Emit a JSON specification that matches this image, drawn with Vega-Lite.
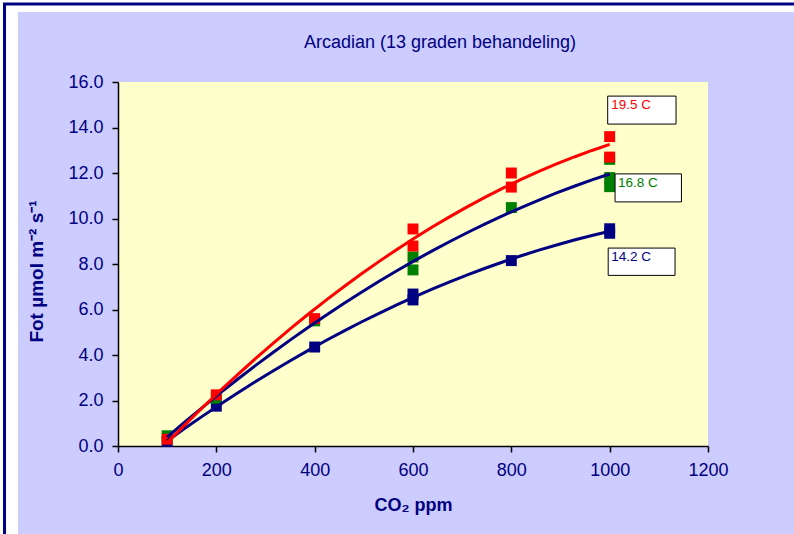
{
  "$schema": "https://vega.github.io/schema/vega-lite/v6.json",
  "width": 590,
  "height": 364,
  "autosize": "none",
  "padding": {"left": 118, "top": 82, "right": 86, "bottom": 88},
  "background": "#CCCCFF",
  "title": {
    "text": "Arcadian (13 graden behandeling)",
    "font": "Liberation Sans",
    "fontSize": 18,
    "fontWeight": "normal",
    "color": "#000080",
    "anchor": "middle",
    "frame": "group",
    "baseline": "alphabetic",
    "dx": 27,
    "offset": 0,
    "dy": 66
  },
  "config": {
    "view": {"stroke": null, "fill": "#FFFFCC"},
    "font": "Liberation Sans",
    "axis": {
      "grid": false,
      "domainColor": "black",
      "domainWidth": 1.5,
      "tickColor": "black",
      "tickWidth": 1.5,
      "tickSize": 6,
      "labelColor": "#000080",
      "labelFont": "Liberation Sans",
      "labelFontSize": 18,
      "labelPadding": 9,
      "labelFlush": false,
      "titleColor": "#000080",
      "titleFont": "Liberation Sans",
      "titleFontSize": 18,
      "titleFontWeight": "bold"
    }
  },
  "datasets": {
    "points": [
      {"series": "14.2 C", "co2": 100, "fot": 0.2},
      {"series": "14.2 C", "co2": 200, "fot": 1.75},
      {"series": "14.2 C", "co2": 400, "fot": 4.35},
      {"series": "14.2 C", "co2": 600, "fot": 6.42},
      {"series": "14.2 C", "co2": 600, "fot": 6.68},
      {"series": "14.2 C", "co2": 800, "fot": 8.15},
      {"series": "14.2 C", "co2": 1000, "fot": 9.35},
      {"series": "14.2 C", "co2": 1000, "fot": 9.55},
      {"series": "16.8 C", "co2": 100, "fot": 0.45},
      {"series": "16.8 C", "co2": 200, "fot": 2.1},
      {"series": "16.8 C", "co2": 400, "fot": 5.5},
      {"series": "16.8 C", "co2": 600, "fot": 7.74},
      {"series": "16.8 C", "co2": 600, "fot": 8.31},
      {"series": "16.8 C", "co2": 800, "fot": 10.48},
      {"series": "16.8 C", "co2": 1000, "fot": 11.4},
      {"series": "16.8 C", "co2": 1000, "fot": 11.8},
      {"series": "16.8 C", "co2": 1000, "fot": 12.6},
      {"series": "19.5 C", "co2": 100, "fot": 0.3},
      {"series": "19.5 C", "co2": 200, "fot": 2.25},
      {"series": "19.5 C", "co2": 400, "fot": 5.6},
      {"series": "19.5 C", "co2": 600, "fot": 8.79},
      {"series": "19.5 C", "co2": 600, "fot": 9.54},
      {"series": "19.5 C", "co2": 800, "fot": 11.38},
      {"series": "19.5 C", "co2": 800, "fot": 12.0},
      {"series": "19.5 C", "co2": 1000, "fot": 12.7},
      {"series": "19.5 C", "co2": 1000, "fot": 13.6}
    ],
    "labels": [
      {"label": "19.5 C", "x1": 996, "x2": 1135, "y1": 15.38, "y2": 14.15, "tx": 1003, "ty": 14.99},
      {"label": "16.8 C", "x1": 1011, "x2": 1146, "y1": 11.96, "y2": 10.73, "tx": 1017, "ty": 11.56},
      {"label": "14.2 C", "x1": 997, "x2": 1133, "y1": 8.7, "y2": 7.5, "tx": 1003, "ty": 8.31}
    ]
  },
  "layer": [
    {
      "data": {"name": "points"},
      "mark": {"type": "point", "shape": "square", "filled": true, "size": 120, "opacity": 1},
      "encoding": {
        "x": {
          "field": "co2", "type": "quantitative",
          "scale": {"domain": [0, 1200], "nice": false},
          "axis": {"values": [0, 200, 400, 600, 800, 1000, 1200], "format": "d", "title": "CO₂ ppm", "titlePadding": 17}
        },
        "y": {
          "field": "fot", "type": "quantitative",
          "scale": {"domain": [0, 16], "nice": false},
          "axis": {"values": [0, 2, 4, 6, 8, 10, 12, 14, 16], "format": ".1f", "title": "Fot µmol m⁻² s⁻¹", "titleFontSize": 19, "titlePadding": 21, "titleY": 189}
        },
        "fill": {
          "field": "series", "type": "nominal",
          "scale": {"domain": ["19.5 C", "16.8 C", "14.2 C"], "range": ["#FF0000", "#008000", "#000080"]},
          "legend": null
        }
      }
    },
    {
      "data": {"name": "points"},
      "transform": [
        {"regression": "fot", "on": "co2", "groupby": ["series"], "method": "poly", "order": 2, "extent": [100, 1000]}
      ],
      "mark": {"type": "line", "strokeWidth": 3},
      "encoding": {
        "x": {"field": "co2", "type": "quantitative"},
        "y": {"field": "fot", "type": "quantitative"},
        "stroke": {
          "field": "series", "type": "nominal",
          "scale": {"domain": ["19.5 C", "16.8 C", "14.2 C"], "range": ["#FF0000", "#000080", "#000080"]},
          "legend": null
        },
        "detail": {"field": "series"}
      }
    },
    {
      "data": {"name": "labels"},
      "mark": {"type": "rect", "fill": "white", "stroke": "black", "strokeWidth": 1},
      "encoding": {
        "x": {"field": "x1", "type": "quantitative"},
        "x2": {"field": "x2"},
        "y": {"field": "y1", "type": "quantitative"},
        "y2": {"field": "y2"}
      }
    },
    {
      "data": {"name": "labels"},
      "mark": {"type": "text", "align": "left", "baseline": "middle", "fontSize": 13.5, "font": "Liberation Sans"},
      "encoding": {
        "x": {"field": "tx", "type": "quantitative"},
        "y": {"field": "ty", "type": "quantitative"},
        "text": {"field": "label"},
        "color": {
          "field": "label", "type": "nominal",
          "scale": {"domain": ["19.5 C", "16.8 C", "14.2 C"], "range": ["#FF0000", "#008000", "#000080"]},
          "legend": null
        }
      }
    },
    {
      "data": {"values": [{}]},
      "mark": {"type": "rect", "fill": "white"},
      "encoding": {
        "x": {"datum": -245, "type": "quantitative"},
        "x2": {"datum": -203.4},
        "y": {"datum": 19.6, "type": "quantitative"},
        "y2": {"datum": -5}
      }
    },
    {
      "data": {"values": [{}]},
      "mark": {"type": "rect", "fill": "white"},
      "encoding": {
        "x": {"datum": -245, "type": "quantitative"},
        "x2": {"datum": 1430},
        "y": {"datum": 19.6, "type": "quantitative"},
        "y2": {"datum": 19.08}
      }
    },
    {
      "data": {"values": [{}]},
      "mark": {"type": "rect", "fill": null, "stroke": "#000080", "strokeWidth": 3},
      "encoding": {
        "x": {"datum": -230.8, "type": "quantitative"},
        "x2": {"datum": 1430},
        "y": {"datum": 19.43, "type": "quantitative"},
        "y2": {"datum": -5}
      }
    }
  ],
  "resolve": {"scale": {"color": "independent", "fill": "independent", "stroke": "independent"}}
}
